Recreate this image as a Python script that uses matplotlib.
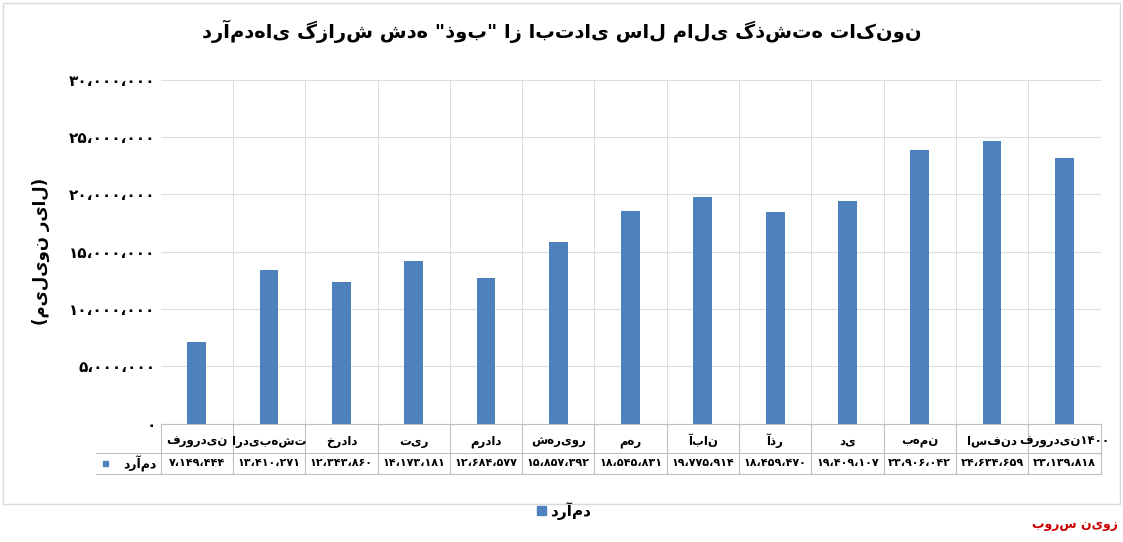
import matplotlib
matplotlib.use("Agg")
import matplotlib.pyplot as plt

months = ["فروردین", "اردیبهشت", "خرداد", "تیر", "مرداد", "شهریور", "مهر",
          "آبان", "آذر", "دی", "بهمن", "اسفند", "فروردین۱۴۰۰"]
revenue = [7149444, 13410271, 12343860, 14173181, 12684577, 15857392, 18545831,
           19775914, 18459470, 19409107, 23906042, 24634659, 23139818]
yticks = [0, 5000000, 10000000, 15000000, 20000000, 25000000, 30000000]

title = 'درآمدهای گزارش شده "ذوب" از ابتدای سال مالی گذشته تاکنون'
ylabel = "(میلیون ریال)"
series = "درآمد"

FA = str.maketrans("0123456789,", "۰۱۲۳۴۵۶۷۸۹،")


def fa_num(v):
    return f"{v:,}".translate(FA)


plt.rcParams["font.family"] = "DejaVu Sans"
fig = plt.figure(figsize=(11.23, 5.42), dpi=100)
ax = fig.add_axes([0.143, 0.218, 0.837, 0.635])
x = list(range(len(months)))
ax.bar(x, revenue, width=0.26, color="#4f81bd", zorder=3)
ax.set_xlim(-0.5, len(months) - 0.5)
ax.set_ylim(0, 30000000)
ax.set_yticks(yticks)
ax.set_yticklabels(["۰" if v == 0 else fa_num(v) for v in yticks],
                   fontsize=11, fontweight="bold")
ax.set_xticks([i + 0.5 for i in x[:-1]], minor=True)
ax.grid(axis="y", color="#dddddd", zorder=0)
ax.grid(axis="x", which="minor", color="#dddddd", zorder=0)
ax.set_xticks([])
for s in ["top", "right", "left"]:
    ax.spines[s].set_visible(False)
ax.spines["bottom"].set_color("#bfbfbf")
ax.tick_params(axis="y", length=0)
ax.set_ylabel(ylabel, fontsize=12, fontweight="bold", labelpad=14)
fig.text(0.5, 0.93, title, ha="center", fontsize=14, fontweight="bold")

# data table under the axis
xt = ax.get_xaxis_transform()
for i, lab in enumerate(months):
    ax.text(i, -0.05, lab, transform=xt, ha="center", va="center",
            fontsize=8.5, fontweight="bold")
    ax.text(i, -0.115, fa_num(revenue[i]), transform=xt, ha="center", va="center",
            fontsize=8, fontweight="bold")
for yy in [-0.085, -0.145]:
    ax.plot([-1.4, len(months) - 0.5], [yy, yy], transform=xt,
            color="#bfbfbf", lw=0.8, clip_on=False)
for i in range(len(months) + 1):
    ax.plot([i - 0.5, i - 0.5], [0, -0.145], transform=xt,
            color="#bfbfbf", lw=0.8, clip_on=False)
ax.text(-0.55, -0.115, series, transform=xt, ha="right", va="center",
        fontsize=9, fontweight="bold")
ax.add_patch(plt.Rectangle((-1.3, -0.122), 0.07, 0.015, transform=xt,
                           color="#4f81bd", clip_on=False))

fig.patches.append(plt.Rectangle((0.478, 0.05), 0.008, 0.016, transform=fig.transFigure,
                                 color="#4f81bd"))
fig.text(0.49, 0.058, series, fontsize=11, fontweight="bold", va="center")
fig.text(0.995, 0.025, "بورس نیوز", color="#cc0000", fontsize=9,
         fontweight="bold", ha="right")
fig.add_artist(plt.Rectangle((0.003, 0.07), 0.994, 0.925, transform=fig.transFigure,
                             fill=False, ec="#d9d9d9", lw=1))

fig.savefig("out.png", dpi=100)
